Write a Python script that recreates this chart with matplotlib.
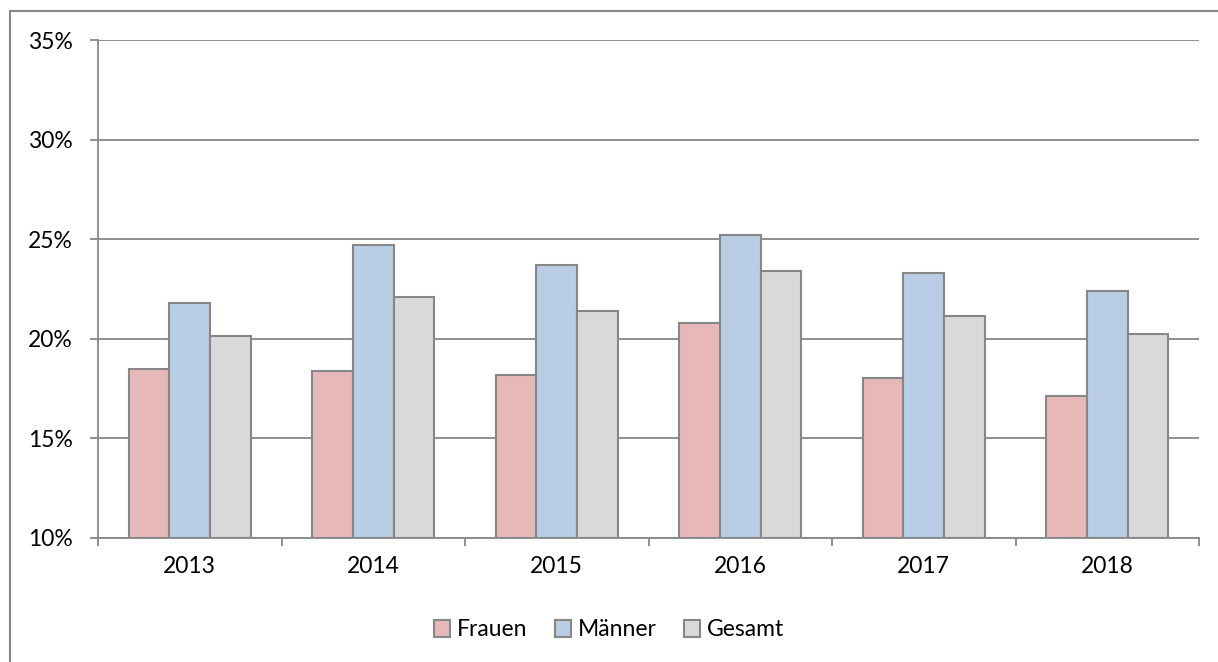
import numpy as np
import matplotlib.pyplot as plt
from matplotlib.patches import Rectangle
from matplotlib.ticker import FuncFormatter

# data (percent)
years = ["2013", "2014", "2015", "2016", "2017", "2018"]
frauen = [18.5, 18.4, 18.2, 20.8, 18.05, 17.15]
maenner = [21.8, 24.7, 23.7, 25.2, 23.3, 22.4]
gesamt = [20.15, 22.1, 21.4, 23.4, 21.15, 20.25]

seriesNames = ["Frauen", "Männer", "Gesamt"]
seriesColors = ["#E6B9B8", "#B9CDE5", "#D9D9D9"]

plt.rcParams['font.family'] = ['Lato', 'DejaVu Sans']
edgeGray = "#878787"
fontSize = 16.5

fig = plt.figure(figsize=(12.18, 6.62), dpi=100)
ax = fig.add_axes([98 / 1218, 1 - 537.8 / 662, (1199 - 98) / 1218, (537.8 - 40.3) / 662])

# outer chart frame (only left and top edges visible in the reference)
fig.patches.append(Rectangle((10 / 1218, -0.2), 1.5, 1.2 - 11 / 662,
                             transform=fig.transFigure, fill=False,
                             edgecolor=edgeGray, linewidth=1.5))

x = np.arange(len(years))
barWidth = 1 / 4.5
allSeries = [frauen, maenner, gesamt]
for i in range(len(allSeries)):
    ax.bar(x + (i - 1) * barWidth, np.array(allSeries[i]) - 10, bottom=10,
           width=barWidth, color=seriesColors[i], edgecolor=edgeGray,
           linewidth=1.5, label=seriesNames[i], zorder=3)

ax.set_ylim(10, 35)
ax.set_xlim(-0.5, len(years) - 0.5)
ax.set_yticks(np.arange(10, 36, 5))
ax.yaxis.set_major_formatter(FuncFormatter(lambda v, p: "%d%%" % v))
ax.grid(axis="y", color=edgeGray, linewidth=1.3, zorder=0)

# year labels centred, ticks at category boundaries
ax.set_xticks(np.arange(-0.5, len(years), 1.0))
ax.set_xticklabels([])
ax.set_xticks(x, minor=True)
ax.set_xticklabels(years, minor=True)
ax.tick_params(axis="x", which="minor", length=0, pad=13, labelsize=fontSize)
ax.tick_params(axis="x", which="major", length=6, width=1.3, color=edgeGray)
ax.tick_params(axis="y", length=6, width=1.3, color=edgeGray, pad=12, labelsize=fontSize)

for side in ["top", "right"]:
    ax.spines[side].set_visible(False)
for side in ["left", "bottom"]:
    ax.spines[side].set_color(edgeGray)
    ax.spines[side].set_linewidth(1.3)

fig.legend(loc="center", bbox_to_anchor=(0.5, 1 - 630 / 662), ncol=3,
           frameon=False, fontsize=fontSize, handlelength=0.7, handleheight=0.7,
           handletextpad=0.3, columnspacing=1.2)

fig.savefig("out.png", dpi=100)
